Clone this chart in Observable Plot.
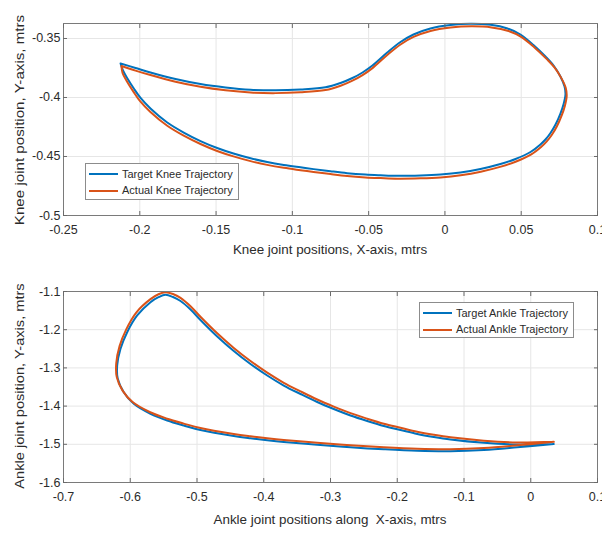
<!DOCTYPE html>
<html>
<head>
<meta charset="utf-8">
<script src="https://cdn.jsdelivr.net/npm/d3@7"></script>
<script src="https://cdn.jsdelivr.net/npm/@observablehq/plot@0.6"></script>
<style>
  html, body { margin: 0; padding: 0; background: #fff; }
  #wrap { position: relative; width: 602px; height: 538px; overflow: hidden;
          font-family: "Liberation Sans", Arial, sans-serif; color: #2b2b2b; }
  #wrap svg { display: block; }
  .lab { position: absolute; font-size: 13.4px; white-space: nowrap; line-height: 1; }
  .xlab { transform: translate(-50%, -50%); }
  .legend { position: absolute; background: #fff; border: 1px solid #8c8c8c; box-sizing: border-box;
            font-size: 11px; line-height: 1; }
  .legend .row { position: absolute; left: 0; height: 14px; display: flex; align-items: center; white-space: nowrap; }
  .legend .sw { display: inline-block; width: 29px; height: 2px; margin: 0 4px 0 3px; }
</style>
</head>
<body>
<div id="wrap"></div>
<script>
// ---------- Tick labels ----------
const kneeXTicks = [-0.25, -0.2, -0.15, -0.1, -0.05, 0, 0.05, 0.1];
const kneeYTicks = [-0.5, -0.45, -0.4, -0.35];
const ankleXTicks = [-0.7, -0.6, -0.5, -0.4, -0.3, -0.2, -0.1, 0, 0.1];
const ankleYTicks = [-1.6, -1.5, -1.4, -1.3, -1.2, -1.1];

// ---------- Series names / colours ----------
const kneeSeries = ["Target Knee Trajectory", "Actual Knee Trajectory"];
const ankleSeries = ["Target Ankle Trajectory", "Actual Ankle Trajectory"];
const seriesColors = ["#0072BD", "#D95319"];

// ---------- Knee trajectory ----------
const kneeTargetX = [-0.2126,-0.2028,-0.1930,-0.1766,-0.1602,-0.1438,-0.1274,-0.1110,-0.0947,-0.0783,
  -0.0684,-0.0606,-0.0540,-0.0475,-0.0378,-0.0291,-0.0206,-0.0095,0.0037,0.0168,
  0.0299,0.0410,0.0495,0.0580,0.0659,0.0712,0.0757,0.0784,0.0790,0.0777,
  0.0757,0.0725,0.0692,0.0659,0.0626,0.0561,0.0463,0.0364,0.0233,0.0102,
  -0.0029,-0.0160,-0.0311,-0.0422,-0.0521,-0.0641,-0.0750,-0.0861,-0.0947,-0.1056,
  -0.1165,-0.1274,-0.1386,-0.1493,-0.1602,-0.1712,-0.1820,-0.1930,-0.1995,-0.2039,
  -0.2081,-0.2110,-0.2126];
const kneeTargetY = [-0.3712,-0.3750,-0.3788,-0.3843,-0.3886,-0.3915,-0.3934,-0.3939,-0.3932,-0.3914,
  -0.3877,-0.3835,-0.3788,-0.3729,-0.3619,-0.3530,-0.3466,-0.3415,-0.3386,-0.3375,
  -0.3384,-0.3415,-0.3466,-0.3555,-0.3653,-0.3729,-0.3822,-0.3907,-0.3975,-0.4059,
  -0.4136,-0.4229,-0.4301,-0.4356,-0.4398,-0.4462,-0.4521,-0.4564,-0.4606,-0.4636,
  -0.4653,-0.4661,-0.4664,-0.4659,-0.4653,-0.4641,-0.4625,-0.4607,-0.4592,-0.4572,
  -0.4547,-0.4515,-0.4475,-0.4428,-0.4369,-0.4297,-0.4212,-0.4093,-0.4004,-0.3924,
  -0.3839,-0.3771,-0.3712];
const kneeActualX = [-0.2120,-0.2028,-0.1930,-0.1766,-0.1602,-0.1438,-0.1274,-0.1110,-0.0947,-0.0783,
  -0.0684,-0.0606,-0.0540,-0.0475,-0.0378,-0.0291,-0.0206,-0.0095,0.0037,0.0175,
  0.0306,0.0417,0.0502,0.0587,0.0666,0.0719,0.0764,0.0792,0.0798,0.0786,
  0.0766,0.0734,0.0700,0.0666,0.0632,0.0566,0.0467,0.0367,0.0235,0.0103,
  -0.0029,-0.0160,-0.0311,-0.0422,-0.0521,-0.0641,-0.0750,-0.0861,-0.0947,-0.1056,
  -0.1165,-0.1274,-0.1386,-0.1493,-0.1602,-0.1712,-0.1820,-0.1932,-0.1998,-0.2042,
  -0.2085,-0.2113,-0.2120];
const kneeActualY = [-0.3733,-0.3772,-0.3810,-0.3866,-0.3909,-0.3939,-0.3958,-0.3963,-0.3956,-0.3937,
  -0.3900,-0.3857,-0.3810,-0.3751,-0.3640,-0.3551,-0.3487,-0.3436,-0.3407,-0.3397,
  -0.3406,-0.3437,-0.3488,-0.3576,-0.3673,-0.3747,-0.3838,-0.3920,-0.3987,-0.4072,
  -0.4150,-0.4244,-0.4318,-0.4374,-0.4417,-0.4482,-0.4542,-0.4586,-0.4629,-0.4659,
  -0.4677,-0.4685,-0.4688,-0.4683,-0.4677,-0.4665,-0.4649,-0.4631,-0.4616,-0.4596,
  -0.4571,-0.4539,-0.4499,-0.4453,-0.4394,-0.4323,-0.4239,-0.4120,-0.4031,-0.3950,
  -0.3862,-0.3792,-0.3733];

// ---------- Ankle trajectory ----------
const ankleTargetX = [0.0345,-0.0203,-0.0703,-0.1202,-0.1452,-0.1701,-0.1951,-0.2201,-0.2450,-0.2700,
  -0.2951,-0.3199,-0.3449,-0.3700,-0.3948,-0.4199,-0.4449,-0.4697,-0.4948,-0.5097,
  -0.5247,-0.5360,-0.5472,-0.5577,-0.5697,-0.5896,-0.6046,-0.6146,-0.6196,-0.6187,
  -0.6097,-0.5947,-0.5697,-0.5446,-0.5198,-0.4948,-0.4449,-0.4199,-0.3948,-0.3700,
  -0.3199,-0.2700,-0.2201,-0.1701,-0.1202,-0.0703,-0.0203,0.0345];
const ankleTargetY = [-1.4990,-1.5005,-1.4961,-1.4874,-1.4809,-1.4730,-1.4626,-1.4521,-1.4390,-1.4246,
  -1.4076,-1.3893,-1.3683,-1.3461,-1.3199,-1.2898,-1.2558,-1.2178,-1.1746,-1.1471,
  -1.1249,-1.1144,-1.1086,-1.1149,-1.1280,-1.1628,-1.2065,-1.2500,-1.2937,-1.3285,
  -1.3636,-1.3940,-1.4202,-1.4377,-1.4508,-1.4626,-1.4783,-1.4843,-1.4895,-1.4940,
  -1.5013,-1.5079,-1.5131,-1.5170,-1.5181,-1.5149,-1.5079,-1.4992];
const ankleActualX = [0.0345,-0.0203,-0.0703,-0.1202,-0.1452,-0.1701,-0.1951,-0.2201,-0.2450,-0.2700,
  -0.2951,-0.3199,-0.3449,-0.3700,-0.3948,-0.4199,-0.4449,-0.4697,-0.4948,-0.5097,
  -0.5247,-0.5360,-0.5472,-0.5577,-0.5697,-0.5910,-0.6060,-0.6160,-0.6210,-0.6202,
  -0.6115,-0.5965,-0.5710,-0.5446,-0.5198,-0.4948,-0.4449,-0.4199,-0.3948,-0.3700,
  -0.3199,-0.2700,-0.2201,-0.1701,-0.1202,-0.0703,-0.0203,0.0345];
const ankleActualY = [-1.4930,-1.4950,-1.4905,-1.4818,-1.4752,-1.4672,-1.4568,-1.4462,-1.4330,-1.4185,
  -1.4013,-1.3828,-1.3615,-1.3390,-1.3125,-1.2820,-1.2478,-1.2095,-1.1662,-1.1385,
  -1.1165,-1.1065,-1.1018,-1.1072,-1.1200,-1.1550,-1.1990,-1.2430,-1.2880,-1.3240,
  -1.3595,-1.3895,-1.4155,-1.4330,-1.4458,-1.4575,-1.4730,-1.4790,-1.4842,-1.4887,
  -1.4960,-1.5025,-1.5078,-1.5117,-1.5128,-1.5097,-1.5027,-1.4935];

const toRows = (xs, ys) => xs.map((x, i) => ({x, y: ys[i]}));
const fmt = d => String(d);
const blank = () => "";
const FONT = "'Liberation Sans', Arial, sans-serif";

function panel({height, mt, mb, xDomain, yDomain, xTicks, yTicks, rows}) {
  return Plot.plot({
    width: 602, height,
    marginTop: mt, marginBottom: mb, marginLeft: 63, marginRight: 5,
    style: {fontFamily: FONT, fontSize: "12.5px", color: "#2b2b2b", background: "transparent", overflow: "visible"},
    x: {domain: xDomain},
    y: {domain: yDomain},
    marks: [
      Plot.gridX(xTicks, {stroke: "#e6e6e6", strokeOpacity: 1}),
      Plot.gridY(yTicks, {stroke: "#e6e6e6", strokeOpacity: 1}),
      Plot.line(rows[0], {x: "x", y: "y", stroke: seriesColors[0], strokeWidth: 2, curve: "catmull-rom"}),
      Plot.line(rows[1], {x: "x", y: "y", stroke: seriesColors[1], strokeWidth: 2, curve: "catmull-rom"}),
      Plot.frame({stroke: "#7a7a7a"}),
      Plot.axisX(xTicks, {anchor: "bottom", tickSize: -4, tickFormat: blank, label: null, stroke: "#6a6a6a"}),
      Plot.axisX(xTicks, {anchor: "top", tickSize: -4, tickFormat: blank, label: null, stroke: "#6a6a6a"}),
      Plot.axisY(yTicks, {anchor: "left", tickSize: -4, tickFormat: blank, label: null, stroke: "#6a6a6a"}),
      Plot.axisY(yTicks, {anchor: "right", tickSize: -4, tickFormat: blank, label: null, stroke: "#6a6a6a"}),
      Plot.axisX(xTicks, {anchor: "bottom", tickSize: 0, tickPadding: 10, tickFormat: fmt, label: null}),
      Plot.axisY(yTicks, {anchor: "left", tickSize: 0, tickPadding: 3, tickFormat: fmt, label: null})
    ]
  });
}

const wrap = document.getElementById("wrap");

const kneeChart = panel({
  height: 262, mt: 23, mb: 47,
  xDomain: [-0.25, 0.1], yDomain: [-0.5, -0.3373],
  xTicks: kneeXTicks, yTicks: kneeYTicks,
  rows: [toRows(kneeTargetX, kneeTargetY), toRows(kneeActualX, kneeActualY)]
});
const ankleChart = panel({
  height: 276, mt: 29, mb: 56,
  xDomain: [-0.7, 0.1], yDomain: [-1.6, -1.1],
  xTicks: ankleXTicks, yTicks: ankleYTicks,
  rows: [toRows(ankleTargetX, ankleTargetY), toRows(ankleActualX, ankleActualY)]
});
wrap.appendChild(kneeChart);
wrap.appendChild(ankleChart);

function addLabel(text, left, topPx, rotate, stretch) {
  const d = document.createElement("div");
  d.className = "lab";
  d.textContent = text;
  d.style.left = left + "px";
  d.style.top = topPx + "px";
  d.style.transform = rotate
    ? `translate(-50%, -50%) rotate(-90deg) scaleX(${stretch})`
    : "translate(-50%, -50%)";
  wrap.appendChild(d);
}
addLabel("Knee joint positions, X-axis, mtrs", 330, 250, false);
addLabel("Knee joint position, Y-axis, mtrs", 20, 120, true, 1.13);
addLabel("Ankle joint positions along\u00a0 X-axis, mtrs", 330, 520, false);
addLabel("Ankle joint position, Y-axis, mtrs", 20, 386, true, 1.09);

function addLegend(names, left, topPx, w, h) {
  const box = document.createElement("div");
  box.className = "legend";
  Object.assign(box.style, {left: left + "px", top: topPx + "px", width: w + "px", height: h + "px"});
  names.forEach((n, i) => {
    const r = document.createElement("div");
    r.className = "row";
    r.style.top = (3 + i * 16.5) + "px";
    const sw = document.createElement("span");
    sw.className = "sw";
    sw.style.background = seriesColors[i];
    const t = document.createElement("span");
    t.textContent = n;
    r.appendChild(sw);
    r.appendChild(t);
    box.appendChild(r);
  });
  wrap.appendChild(box);
}
addLegend(kneeSeries, 85, 163, 154, 37);
addLegend(ankleSeries, 419, 302, 155, 36);
</script>
</body>
</html>
